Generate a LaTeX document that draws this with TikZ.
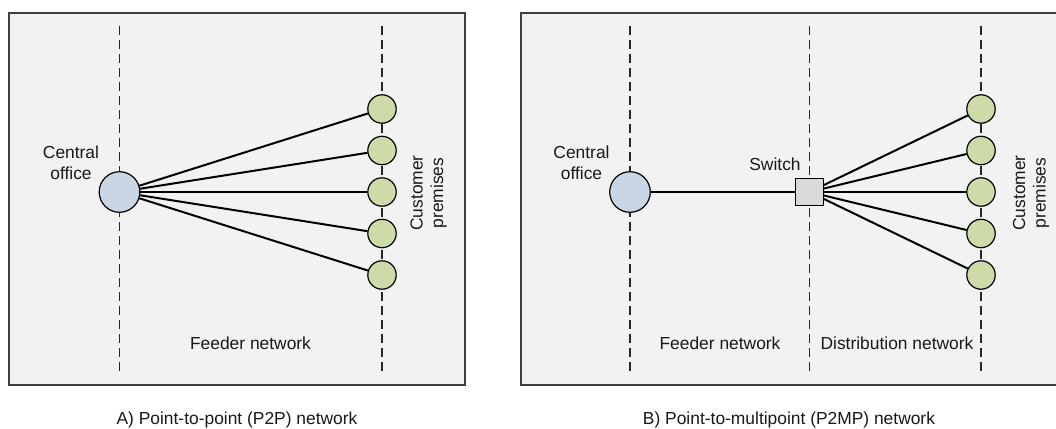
\documentclass[tikz,border=0pt]{standalone}
\usepackage{fontspec}
\setmainfont{Liberation Sans}
\begin{document}
\begin{tikzpicture}[x=1pt,y=-1pt,
  panel/.style={draw=black!75, line width=1.3pt, fill=bgfill},
  divider/.style={draw=black!85, line width=1.1pt, dash pattern=on 9pt off 5pt},
  office/.style={circle, draw=black, line width=1.2pt, fill=cofill, minimum size=40.6pt, inner sep=0pt},
  cust/.style={circle, draw=black, line width=1.2pt, fill=custfill, minimum size=28.4pt, inner sep=0pt},
  switchbox/.style={rectangle, draw=black, line width=1.2pt, fill=swfill, minimum size=27.5pt, inner sep=0pt},
  link/.style={draw=black, line width=2pt},
  lbl/.style={inner sep=0pt, font=\fontsize{17.4}{20.5}\selectfont, text=black!90},
]
\definecolor{bgfill}{RGB}{242,242,242}
\definecolor{cofill}{RGB}{201,214,229}
\definecolor{custfill}{RGB}{205,219,168}
\definecolor{swfill}{RGB}{217,217,217}
\useasboundingbox (0,0) rectangle (1056,428);
\fill[white] (0,0) rectangle (1056,428);

% panels
\draw[panel] (9,13) rectangle (465,385);
\draw[panel] (521,13) rectangle (1062,385);

% dividers
\coordinate (d1t) at (119.5,26); \coordinate (d1b) at (119.5,372);
\coordinate (d2t) at (382,26);   \coordinate (d2b) at (382,372);
\coordinate (d3t) at (630,26);   \coordinate (d3b) at (630,372);
\coordinate (d4t) at (809.5,26); \coordinate (d4b) at (809.5,372);
\coordinate (d5t) at (981,26);   \coordinate (d5b) at (981,372);
\draw[divider] (d1t) -- (d1b);
\draw[divider] (d2t) -- (d2b);
\draw[divider] (d3t) -- (d3b);
\draw[divider] (d4t) -- (d4b);
\draw[divider] (d5t) -- (d5b);

% panel A nodes
\node[office] (coA) at (119.5,192) {};
\node[cust] (a1) at (382,109) {};
\node[cust] (a2) at (382,150.5) {};
\node[cust] (a3) at (382,192) {};
\node[cust] (a4) at (382,233.5) {};
\node[cust] (a5) at (382,275) {};
\foreach \i in {1,...,5} \draw[link] (coA) -- (a\i);

% panel B nodes
\node[office] (coB) at (630,192) {};
\node[switchbox] (sw) at (809.5,192) {};
\node[cust] (b1) at (981,109) {};
\node[cust] (b2) at (981,150.5) {};
\node[cust] (b3) at (981,192) {};
\node[cust] (b4) at (981,233.5) {};
\node[cust] (b5) at (981,275) {};
\draw[link] (coB) -- (sw);
\foreach \i in {1,...,5} \draw[link] (sw) -- (b\i);

% labels
\node[lbl, align=center] (lcoA) at (71,163) {Central\\office};
\node[lbl, align=center, rotate=90] (lcuA) at (428.5,193) {Customer\\premises};
\node[lbl, anchor=base] (lfeA) at (250.5,349) {Feeder network};
\node[lbl, anchor=base] (capA) at (237,424.3) {A) Point-to-point (P2P) network};

\node[lbl, align=center] (lcoB) at (581.5,163) {Central\\office};
\node[lbl, anchor=base] (lsw) at (775,170) {Switch};
\node[lbl, align=center, rotate=90] (lcuB) at (1031,193) {Customer\\premises};
\node[lbl, anchor=base] (lfeB) at (720,349) {Feeder network};
\node[lbl, anchor=base] (ldiB) at (897,349) {Distribution network};
\node[lbl, anchor=base] (capB) at (789,424.3) {B) Point-to-multipoint (P2MP) network};
\end{tikzpicture}
\end{document}
